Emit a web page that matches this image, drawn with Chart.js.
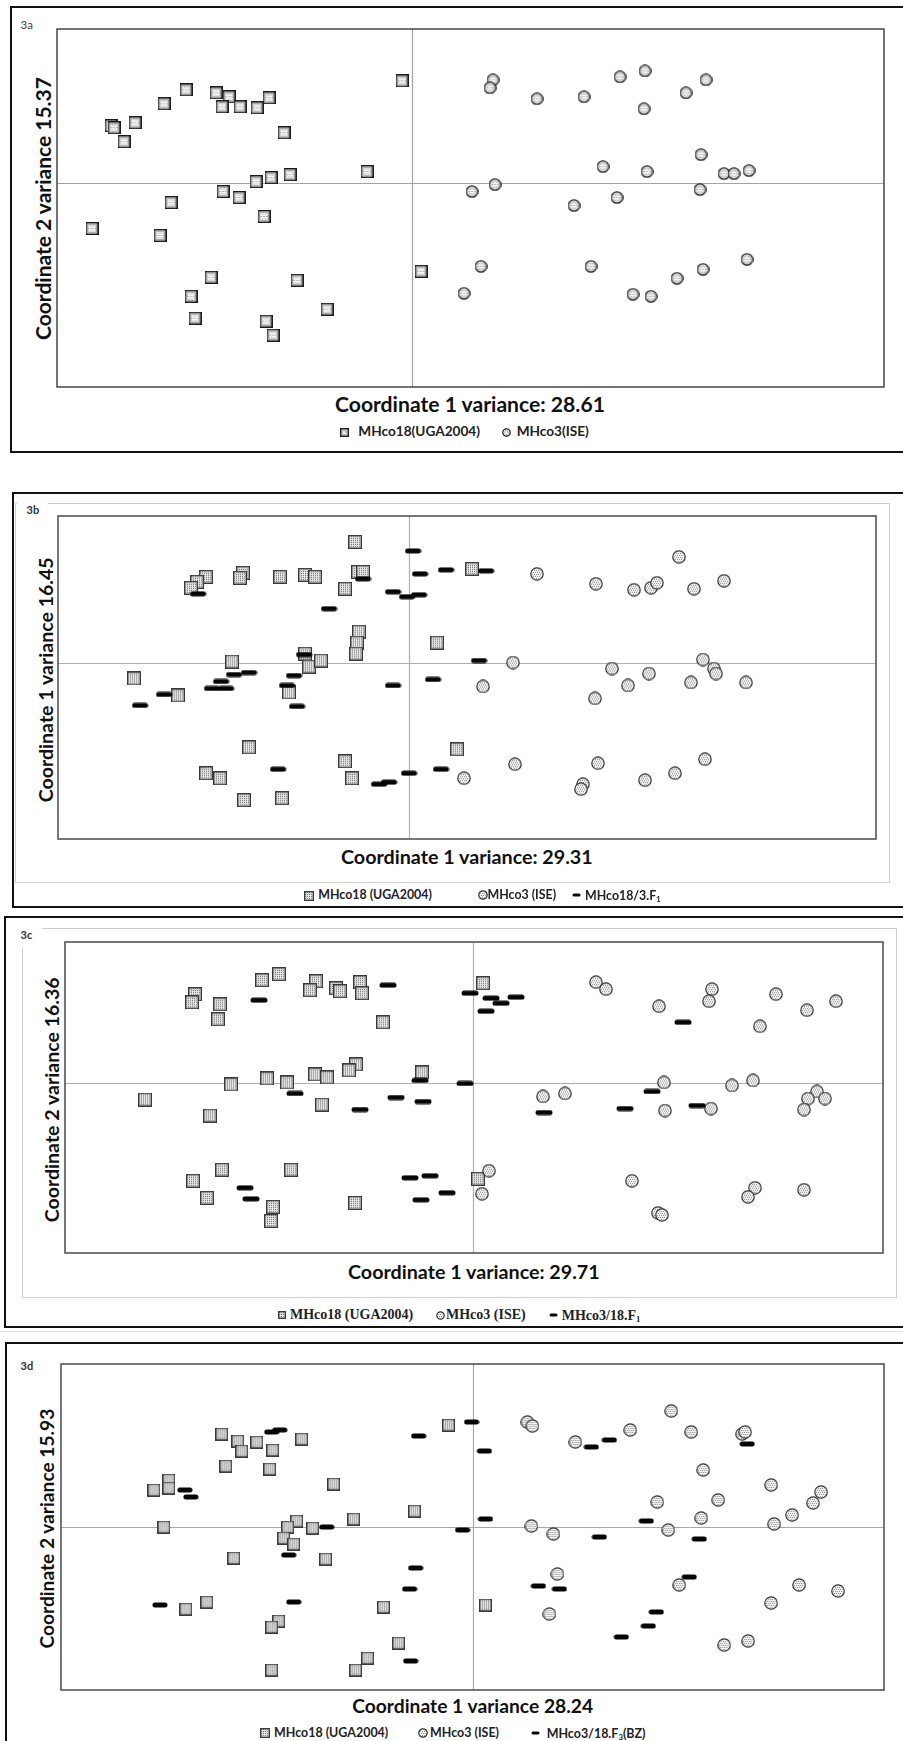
<!DOCTYPE html>
<html>
<head>
<meta charset="utf-8">
<title>Principal coordinate analysis – Figure 3a–3d</title>
<script src="https://cdn.jsdelivr.net/npm/chart.js@4.4.1/dist/chart.umd.min.js"></script>
<style>
  html, body { margin: 0; padding: 0; background: #fff; }
  #page { position: relative; width: 903px; height: 1741px; overflow: hidden; background: #fff; }
  .box { position: absolute; border: 2px solid #111; box-sizing: border-box; }
  .gbox { position: absolute; border: 1.5px solid #cfcfcf; box-sizing: border-box; }
  .mask { position: absolute; background: #fff; }
  .hline { position: absolute; height: 1px; background: #e2e2e2; }
  .txt { position: absolute; white-space: nowrap; line-height: 1; }
  .txt sub { font-size: 0.62em; vertical-align: -0.28em; line-height: 0; }
  canvas.plot, canvas.icon { position: absolute; }
</style>
</head>
<body>
<div id="page"></div>
<script>
// ---------------------------------------------------------------------------
// PCoA coordinates [coordinate 1, coordinate 2] for every individual worm
// ---------------------------------------------------------------------------

// 3a: parental isolates
const fig3a_MHco18 = [
  [-0.010, 0.102], [-0.226, 0.093], [-0.196, 0.090], [-0.183, 0.086], [-0.143, 0.085],
  [-0.248, 0.079], [-0.190, 0.076], [-0.172, 0.076], [-0.155, 0.075], [-0.301, 0.057],
  [-0.298, 0.055], [-0.277, 0.060], [-0.288, 0.041], [-0.128, 0.050], [-0.045, 0.011],
  [-0.122, 0.008], [-0.141, 0.005], [-0.156, 0.001], [-0.189, -0.009], [-0.173, -0.015],
  [-0.241, -0.020], [-0.148, -0.034], [-0.320, -0.046], [-0.252, -0.053], [0.009, -0.089],
  [-0.201, -0.095], [-0.115, -0.098], [-0.221, -0.114], [-0.085, -0.127], [-0.217, -0.136],
  [-0.146, -0.139], [-0.139, -0.153]
];
const fig3a_MHco3 = [
  [0.081, 0.103], [0.078, 0.095], [0.125, 0.084], [0.172, 0.086], [0.208, 0.106],
  [0.233, 0.112], [0.294, 0.103], [0.274, 0.090], [0.232, 0.074], [0.289, 0.028],
  [0.191, 0.016], [0.235, 0.011], [0.312, 0.009], [0.322, 0.009], [0.337, 0.012],
  [0.083, -0.002], [0.060, -0.009], [0.288, -0.007], [0.205, -0.015], [0.162, -0.023],
  [0.069, -0.084], [0.179, -0.084], [0.335, -0.077], [0.291, -0.087], [0.265, -0.096],
  [0.221, -0.112], [0.239, -0.114], [0.052, -0.111]
];

// 3b: parents with MHco18/3.F1
const fig3b_MHco18 = [
  [-0.054, 0.121], [-0.203, 0.086], [-0.212, 0.081], [-0.218, 0.075], [-0.166, 0.090],
  [-0.169, 0.085], [-0.129, 0.086], [-0.104, 0.088], [-0.094, 0.086], [-0.051, 0.091],
  [-0.046, 0.091], [-0.064, 0.074], [-0.050, 0.031], [-0.052, 0.020], [-0.053, 0.009],
  [0.028, 0.020], [-0.104, 0.009], [-0.100, -0.004], [-0.088, 0.002], [-0.177, 0.001],
  [-0.275, -0.016], [-0.231, -0.033], [-0.120, -0.030], [-0.160, -0.085], [-0.203, -0.111],
  [-0.189, -0.116], [-0.064, -0.099], [-0.057, -0.116], [-0.165, -0.138], [-0.127, -0.136],
  [0.063, 0.094], [0.048, -0.087]
];
const fig3b_MHco3 = [
  [0.128, 0.089], [0.187, 0.079], [0.225, 0.073], [0.242, 0.075], [0.248, 0.080],
  [0.270, 0.106], [0.285, 0.074], [0.315, 0.082], [0.104, 0.000], [0.074, -0.024],
  [0.203, -0.006], [0.240, -0.011], [0.219, -0.023], [0.186, -0.036], [0.294, 0.003],
  [0.305, -0.006], [0.307, -0.011], [0.282, -0.020], [0.337, -0.020], [0.106, -0.102],
  [0.055, -0.116], [0.189, -0.101], [0.174, -0.122], [0.172, -0.127], [0.236, -0.118],
  [0.266, -0.111], [0.296, -0.097]
];
const fig3b_F1 = [
  [0.004, 0.112], [0.011, 0.089], [0.037, 0.093], [-0.046, 0.084], [-0.016, 0.071],
  [-0.002, 0.066], [0.010, 0.068], [-0.211, 0.069], [-0.080, 0.054], [-0.105, 0.008],
  [-0.160, -0.010], [-0.175, -0.012], [-0.188, -0.019], [-0.183, -0.026], [-0.197, -0.026],
  [-0.115, -0.013], [-0.122, -0.023], [-0.112, -0.044], [-0.245, -0.032], [-0.269, -0.043],
  [-0.016, -0.023], [0.024, -0.017], [-0.131, -0.107], [-0.030, -0.122], [-0.020, -0.120],
  [0.000, -0.111], [0.032, -0.107], [0.077, 0.092], [0.070, 0.002]
];

// 3c: parents with MHco3/18.F1
const fig3c_MHco18 = [
  [-0.194, 0.109], [-0.211, 0.103], [-0.278, 0.089], [-0.281, 0.081], [-0.253, 0.079],
  [-0.255, 0.064], [-0.157, 0.102], [-0.163, 0.093], [-0.137, 0.095], [-0.133, 0.092],
  [-0.113, 0.101], [-0.111, 0.090], [-0.090, 0.061], [-0.051, 0.011], [-0.117, 0.019],
  [-0.124, 0.013], [-0.158, 0.009], [-0.146, 0.006], [-0.206, 0.005], [-0.186, 0.001],
  [-0.242, -0.001], [-0.328, -0.016], [-0.263, -0.032], [-0.151, -0.021], [-0.251, -0.086],
  [-0.182, -0.086], [-0.280, -0.097], [-0.266, -0.114], [-0.200, -0.123], [-0.202, -0.137],
  [-0.118, -0.119], [0.010, 0.100], [0.005, -0.095]
];
const fig3c_MHco3 = [
  [0.123, 0.101], [0.133, 0.094], [0.186, 0.077], [0.239, 0.094], [0.236, 0.082],
  [0.303, 0.089], [0.334, 0.073], [0.363, 0.082], [0.287, 0.057], [0.191, 0.001],
  [0.259, -0.002], [0.280, 0.003], [0.070, -0.013], [0.092, -0.010], [0.192, -0.027],
  [0.238, -0.025], [0.344, -0.008], [0.335, -0.015], [0.352, -0.015], [0.331, -0.026],
  [0.016, -0.087], [0.009, -0.110], [0.159, -0.097], [0.282, -0.104], [0.275, -0.113],
  [0.331, -0.106], [0.185, -0.129], [0.189, -0.131]
];
const fig3c_F1 = [
  [-0.085, 0.098], [-0.214, 0.083], [-0.178, -0.010], [-0.077, -0.014], [-0.053, 0.003],
  [-0.050, -0.018], [-0.113, -0.026], [-0.228, -0.104], [-0.222, -0.115], [-0.063, -0.094],
  [-0.043, -0.092], [-0.052, -0.116], [-0.026, -0.109], [-0.003, 0.090], [0.018, 0.085],
  [0.028, 0.080], [0.043, 0.086], [0.013, 0.072], [0.210, 0.061], [-0.008, 0.000],
  [0.179, -0.008], [0.071, -0.029], [0.152, -0.025], [0.224, -0.022]
];

// 3d: parents with MHco3/18.F3 (BZ)
const fig3d_MHco18 = [
  [-0.251, 0.093], [-0.235, 0.086], [-0.231, 0.076], [-0.216, 0.085], [-0.200, 0.077],
  [-0.171, 0.088], [-0.247, 0.061], [-0.203, 0.058], [-0.304, 0.047], [-0.304, 0.039],
  [-0.319, 0.037], [-0.139, 0.043], [-0.058, 0.016], [-0.119, 0.008], [-0.176, 0.006],
  [-0.185, 0.000], [-0.160, -0.001], [-0.189, -0.011], [-0.179, -0.017], [-0.309, 0.000],
  [-0.239, -0.031], [-0.147, -0.032], [-0.266, -0.075], [-0.287, -0.082], [-0.194, -0.094],
  [-0.201, -0.100], [-0.089, -0.080], [-0.074, -0.116], [-0.105, -0.131], [-0.117, -0.143],
  [-0.201, -0.143], [-0.024, 0.102], [0.013, -0.078]
];
const fig3d_MHco3 = [
  [0.055, 0.105], [0.060, 0.101], [0.103, 0.085], [0.158, 0.097], [0.199, 0.116],
  [0.219, 0.095], [0.270, 0.093], [0.273, 0.095], [0.231, 0.057], [0.299, 0.042],
  [0.349, 0.035], [0.341, 0.024], [0.320, 0.012], [0.246, 0.027], [0.185, 0.025],
  [0.229, 0.009], [0.302, 0.003], [0.059, 0.001], [0.081, -0.007], [0.196, -0.003],
  [0.085, -0.047], [0.207, -0.058], [0.077, -0.087], [0.299, -0.076], [0.327, -0.058],
  [0.366, -0.064], [0.252, -0.118], [0.276, -0.114]
];
const fig3d_F3 = [
  [-0.201, 0.095], [-0.193, 0.097], [-0.054, 0.091], [-0.288, 0.037], [-0.282, 0.030],
  [-0.146, 0.000], [-0.184, -0.028], [-0.057, -0.041], [-0.063, -0.062], [-0.179, -0.075],
  [-0.313, -0.078], [-0.062, -0.134], [-0.001, 0.105], [0.012, 0.076], [0.119, 0.080],
  [0.137, 0.087], [0.275, 0.083], [-0.010, -0.003], [0.013, 0.008], [0.127, -0.010],
  [0.174, 0.006], [0.227, -0.012], [0.066, -0.059], [0.087, -0.062], [0.217, -0.050],
  [0.184, -0.085], [0.176, -0.099], [0.149, -0.110]
];

// Axis extents [xmin, xmax, ymin, ymax]
const rangeA = [-0.355, 0.472, -0.205, 0.154];
const rangeB = [-0.351, 0.467, -0.177, 0.147];
const rangeC = [-0.408, 0.410, -0.169, 0.141];
const rangeD = [-0.412, 0.412, -0.163, 0.163];

// Axis titles [x, y]
const titlesA = ['Coordinate 1 variance: 28.61', 'Coordinate 2 variance 15.37'];
const titlesB = ['Coordinate 1 variance: 29.31', 'Coordinate 1 variance 16.45'];
const titlesC = ['Coordinate 1 variance: 29.71', 'Coordinate 2 variance 16.36'];
const titlesD = ['Coordinate 1 variance 28.24', 'Coordinate 2 variance 15.93'];

// Legend labels
const legendA = ['MHco18(UGA2004)', 'MHco3(ISE)'];
const legendB = ['MHco18 (UGA2004)', 'MHco3 (ISE)', 'MHco18/3.F<sub>1</sub>'];
const legendC = ['MHco18 (UGA2004)', 'MHco3 (ISE)', 'MHco3/18.F<sub>1</sub>'];
const legendD = ['MHco18 (UGA2004)', 'MHco3 (ISE)', 'MHco3/18.F<sub>3</sub>(BZ)'];

// ---------------------------------------------------------------------------
// Marker images (patterned squares / circles, and bars)
// ---------------------------------------------------------------------------
function dotGrid(g, w, h, step, color, r, stagger) {
  g.fillStyle = color;
  let row = 0;
  for (let y = 1; y < h; y += step, row++) {
    const off = stagger && (row % 2) ? step / 2 : 0;
    for (let x = 1 + off; x < w; x += step) g.fillRect(x, y, r, r);
  }
}
function roundedRect(g, x, y, w, h, r) {
  g.beginPath();
  g.moveTo(x + r, y);
  g.lineTo(x + w - r, y);
  g.arc(x + w - r, y + r, r, -Math.PI / 2, Math.PI / 2);
  g.lineTo(x + r, y + h);
  g.arc(x + r, y + r, r, Math.PI / 2, Math.PI * 1.5);
  g.closePath();
}
function makeMarker(kind, w, h) {
  h = h || w;
  const c = document.createElement('canvas');
  c.width = w; c.height = h;
  const g = c.getContext('2d');
  const cx = w / 2, cy = h / 2;
  if (kind === 'dash') {
    g.fillStyle = '#060606';
    roundedRect(g, 0.5, 0.5, w - 1, h - 1, (h - 1) / 2);
    g.fill();
  } else if (kind === 'sqA') {
    g.fillStyle = '#fff'; g.fillRect(0, 0, w, h);
    g.save(); g.beginPath(); g.rect(3, 3, w - 6, h - 6); g.clip();
    dotGrid(g, w, h, 2.5, '#6a6a6a', 1, true); g.restore();
    g.strokeStyle = '#9c9c9c'; g.lineWidth = 0.8; g.strokeRect(2.6, 2.6, w - 5.2, h - 5.2);
    g.strokeStyle = '#1c1c1c'; g.lineWidth = 1.5; g.strokeRect(0.75, 0.75, w - 1.5, h - 1.5);
  } else if (kind === 'ciA') {
    const r = w / 2 - 0.8;
    g.beginPath(); g.arc(cx, cy, r, 0, Math.PI * 2); g.fillStyle = '#fff'; g.fill();
    g.save(); g.beginPath(); g.arc(cx, cy, r - 1.8, 0, Math.PI * 2); g.clip();
    dotGrid(g, w, h, 2.5, '#6a6a6a', 1, true); g.restore();
    g.beginPath(); g.arc(cx, cy, r - 1.8, 0, Math.PI * 2);
    g.strokeStyle = '#a0a0a0'; g.lineWidth = 0.7; g.stroke();
    g.beginPath(); g.arc(cx, cy, r, 0, Math.PI * 2);
    g.strokeStyle = '#1c1c1c'; g.lineWidth = 1.3; g.stroke();
  } else if (kind === 'sqB') {
    g.fillStyle = '#e6e6e6'; g.fillRect(0, 0, w, h);
    dotGrid(g, w, h, 2, '#6d6d6d', 1, false);
    g.strokeStyle = '#bdbdbd'; g.lineWidth = 0.8; g.strokeRect(1.9, 1.9, w - 3.8, h - 3.8);
    g.strokeStyle = '#3a3a3a'; g.lineWidth = 1.3; g.strokeRect(0.65, 0.65, w - 1.3, h - 1.3);
  } else if (kind === 'ciB') {
    const r = w / 2 - 0.8;
    g.beginPath(); g.arc(cx, cy, r, 0, Math.PI * 2); g.fillStyle = '#f2f2f2'; g.fill();
    g.save(); g.beginPath(); g.arc(cx, cy, r - 1.3, 0, Math.PI * 2); g.clip();
    dotGrid(g, w, h, 2, '#8a8a8a', 1, true); g.restore();
    g.beginPath(); g.arc(cx, cy, r, 0, Math.PI * 2);
    g.strokeStyle = '#2e2e2e'; g.lineWidth = 1.2; g.stroke();
  }
  return c;
}

// ---------------------------------------------------------------------------
// Page furniture: panel boxes, text, legend icons
// ---------------------------------------------------------------------------
const page = document.getElementById('page');
function addDiv(cls, l, t, w, h) {
  const d = document.createElement('div');
  d.className = cls;
  d.style.left = l + 'px'; d.style.top = t + 'px';
  if (w != null) d.style.width = w + 'px';
  if (h != null) d.style.height = h + 'px';
  page.appendChild(d);
  return d;
}
// font size at which `html` spans `width` pixels
function fitSize(html, font, weight, width) {
  const el = document.createElement('div');
  el.className = 'txt';
  el.innerHTML = html;
  el.style.fontFamily = font;
  el.style.fontWeight = weight;
  el.style.fontSize = '20px';
  el.style.visibility = 'hidden';
  page.appendChild(el);
  const w0 = el.getBoundingClientRect().width;
  page.removeChild(el);
  return 20 * width / w0;
}
function addText(html, o) {
  const el = document.createElement('div');
  el.className = 'txt';
  el.innerHTML = html;
  const weight = o.weight || 'bold';
  el.style.fontFamily = o.font;
  el.style.fontWeight = weight;
  el.style.color = o.color || '#111';
  const size = o.width ? fitSize(html, o.font, weight, o.width) : o.size;
  el.style.fontSize = size.toFixed(2) + 'px';
  page.appendChild(el);
  const w = el.offsetWidth, h = el.offsetHeight;
  if (o.rotate) {
    el.style.left = (o.cx - w / 2) + 'px';
    el.style.top = (o.cy - h / 2) + 'px';
    el.style.transform = 'rotate(-90deg)';
  } else {
    const left = o.left != null ? o.left : o.cx - w / 2;
    el.style.left = left + 'px';
    el.style.top = (o.cy - h / 2) + 'px';
  }
  return el;
}
function addIcon(kind, cx, cy, w, h) {
  const c = makeMarker(kind, w, h);
  c.className = 'icon';
  c.style.left = Math.round(cx - c.width / 2) + 'px';
  c.style.top = Math.round(cy - c.height / 2) + 'px';
  page.appendChild(c);
}

// panel frames
addDiv('box', 10, 6, 900, 447);        // 3a
addDiv('box', 12, 492, 898, 416);      // 3b
addDiv('gbox', 15, 503, 875, 380);
addDiv('box', 4, 916, 906, 412);       // 3c
addDiv('gbox', 22, 928, 875, 370);
addDiv('hline', 0, 1331, 903);         // faint rule above 3d
addDiv('box', 5, 1342, 905, 410);      // 3d
addDiv('mask', 17, 501, 31, 6);
addDiv('mask', 20, 925, 22, 23);

// panel letters
addText('3a', { font: 'Lato', weight: 'normal', color: '#444', size: 11.5, left: 20.5, cy: 25 });
addText('3b', { font: 'Lato', weight: 'bold', color: '#333', size: 11, left: 26.5, cy: 509 });
addText('3c', { font: 'Lato', weight: 'bold', color: '#333', size: 11, left: 20.5, cy: 934.5 });
addText('3d', { font: 'Lato', weight: 'bold', color: '#333', size: 11, left: 20.5, cy: 1365 });

// axis titles
const SANS = 'Lato, "Open Sans", sans-serif';
const SERIF = '"Liberation Serif", "DejaVu Serif", serif';
addText(titlesA[0], { font: SANS, width: 270, cx: 470, cy: 404 });
addText(titlesA[1], { font: SANS, width: 263, cx: 42.7, cy: 208.5, rotate: true });
addText(titlesB[0], { font: SANS, width: 252, cx: 467, cy: 857 });
addText(titlesB[1], { font: SANS, width: 245, cx: 45, cy: 679.5, rotate: true });
addText(titlesC[0], { font: SANS, width: 252, cx: 474, cy: 1271.7 });
addText(titlesC[1], { font: SANS, width: 245, cx: 51.7, cy: 1099.5, rotate: true });
addText(titlesD[0], { font: SANS, width: 241, cx: 472.7, cy: 1705.7 });
addText(titlesD[1], { font: SANS, width: 240, cx: 46.7, cy: 1528, rotate: true });

// legends: one font size per legend, set by the first entry's span
const lsA = fitSize(legendA[0], SANS, 'bold', 121.7);
addIcon('sqA', 344.5, 432, 9);
addText(legendA[0], { font: SANS, size: lsA, left: 358.3, cy: 432, color: '#222' });
addIcon('ciA', 506, 432, 9);
addText(legendA[1], { font: SANS, size: lsA, left: 516.7, cy: 432, color: '#222' });

const lsB = fitSize(legendB[0], SANS, 'bold', 113.7);
addIcon('sqB', 309, 895.5, 10);
addText(legendB[0], { font: SANS, size: lsB, left: 318.3, cy: 895, color: '#222' });
addIcon('ciB', 482.5, 895, 10);
addText(legendB[1], { font: SANS, size: lsB, left: 487.5, cy: 895, color: '#222' });
addIcon('dash', 576, 895, 9, 4);
addText(legendB[2], { font: SANS, size: lsB, left: 585, cy: 895.5, color: '#222' });

const lsC = fitSize(legendC[0], SERIF, 'bold', 123.3);
addIcon('sqB', 282, 1315, 8);
addText(legendC[0], { font: SERIF, size: lsC, left: 290, cy: 1315, color: '#222' });
addIcon('ciB', 440.5, 1315, 9);
addText(legendC[1], { font: SERIF, size: lsC, left: 446, cy: 1315, color: '#222' });
addIcon('dash', 553.5, 1315, 9, 4);
addText(legendC[2], { font: SERIF, size: lsC, left: 561.7, cy: 1315.5, color: '#222' });

const lsD = fitSize(legendD[0], SANS, 'bold', 114.3);
addIcon('sqB', 265, 1733, 10);
addText(legendD[0], { font: SANS, size: lsD, left: 274, cy: 1733, color: '#222' });
addIcon('ciB', 423.3, 1733, 10);
addText(legendD[1], { font: SANS, size: lsD, left: 430, cy: 1733, color: '#222' });
addIcon('dash', 535, 1733, 9, 4);
addText(legendD[2], { font: SANS, size: lsD, left: 546.7, cy: 1733.5, color: '#222' });

// ---------------------------------------------------------------------------
// Scatter charts
// ---------------------------------------------------------------------------
const frameAndZero = {
  id: 'frameAndZero',
  beforeDatasetsDraw(chart, args, opts) {
    const { ctx, chartArea: a, scales } = chart;
    const px = Math.round(scales.x.getPixelForValue(0)) + 0.5;
    const py = Math.round(scales.y.getPixelForValue(0)) + 0.5;
    ctx.save();
    ctx.strokeStyle = opts.zeroColor;
    ctx.lineWidth = opts.zeroWidth;
    ctx.beginPath();
    ctx.moveTo(px, a.top); ctx.lineTo(px, a.bottom);
    ctx.moveTo(a.left, py); ctx.lineTo(a.right, py);
    ctx.stroke();
    ctx.strokeStyle = opts.frameColor;
    ctx.lineWidth = opts.frameWidth;
    ctx.strokeRect(a.left, a.top, a.right - a.left, a.bottom - a.top);
    ctx.restore();
  }
};

const PAD = 12;
const panels = [
  { plot: [57, 29, 884, 387], range: rangeA,
    frame: { frameColor: '#3a3a3a', frameWidth: 1.4, zeroColor: '#a3a3a3', zeroWidth: 1.2 },
    series: [
      { label: legendA[0], data: fig3a_MHco18, marker: ['sqA', 13], order: 2 },
      { label: legendA[1], data: fig3a_MHco3, marker: ['ciA', 13], order: 1 }
    ] },
  { plot: [58, 516, 876, 839], range: rangeB,
    frame: { frameColor: '#555', frameWidth: 1.6, zeroColor: '#b0b0b0', zeroWidth: 1.2 },
    series: [
      { label: legendB[0], data: fig3b_MHco18, marker: ['sqB', 14], order: 2 },
      { label: legendB[1], data: fig3b_MHco3, marker: ['ciB', 14], order: 1 },
      { label: legendB[2], data: fig3b_F1, marker: ['dash', 17, 6], order: 0 }
    ] },
  { plot: [65, 942, 883, 1253], range: rangeC,
    frame: { frameColor: '#555', frameWidth: 1.6, zeroColor: '#b0b0b0', zeroWidth: 1.2 },
    series: [
      { label: legendC[0], data: fig3c_MHco18, marker: ['sqB', 14], order: 2 },
      { label: legendC[1], data: fig3c_MHco3, marker: ['ciB', 14], order: 1 },
      { label: legendC[2], data: fig3c_F1, marker: ['dash', 18, 6], order: 0 }
    ] },
  { plot: [61, 1364, 884, 1690], range: rangeD,
    frame: { frameColor: '#555', frameWidth: 1.6, zeroColor: '#a8a8a8', zeroWidth: 1.2 },
    series: [
      { label: legendD[0], data: fig3d_MHco18, marker: ['sqB', 13], order: 2 },
      { label: legendD[1], data: fig3d_MHco3, marker: ['ciB', 14], order: 1 },
      { label: legendD[2], data: fig3d_F3, marker: ['dash', 16, 6], order: 0 }
    ] }
];

panels.forEach(p => {
  const [l, t, r, b] = p.plot;
  const cv = document.createElement('canvas');
  cv.className = 'plot';
  cv.width = r - l + 2 * PAD;
  cv.height = b - t + 2 * PAD;
  cv.style.left = (l - PAD) + 'px';
  cv.style.top = (t - PAD) + 'px';
  page.appendChild(cv);

  new Chart(cv, {
    type: 'scatter',
    data: {
      datasets: p.series.map(s => ({
        label: s.label,
        data: s.data.map(([x, y]) => ({ x, y })),
        pointStyle: makeMarker(s.marker[0], s.marker[1], s.marker[2]),
        pointRadius: 7,
        pointHoverRadius: 7,
        order: s.order,
        clip: false
      }))
    },
    options: {
      responsive: false,
      animation: false,
      devicePixelRatio: 1,
      layout: { padding: PAD },
      events: [],
      scales: {
        x: { type: 'linear', min: p.range[0], max: p.range[1], display: false },
        y: { type: 'linear', min: p.range[2], max: p.range[3], display: false }
      },
      plugins: {
        legend: { display: false },
        tooltip: { enabled: false },
        frameAndZero: p.frame
      }
    },
    plugins: [frameAndZero]
  });
});
</script>
</body>
</html>
